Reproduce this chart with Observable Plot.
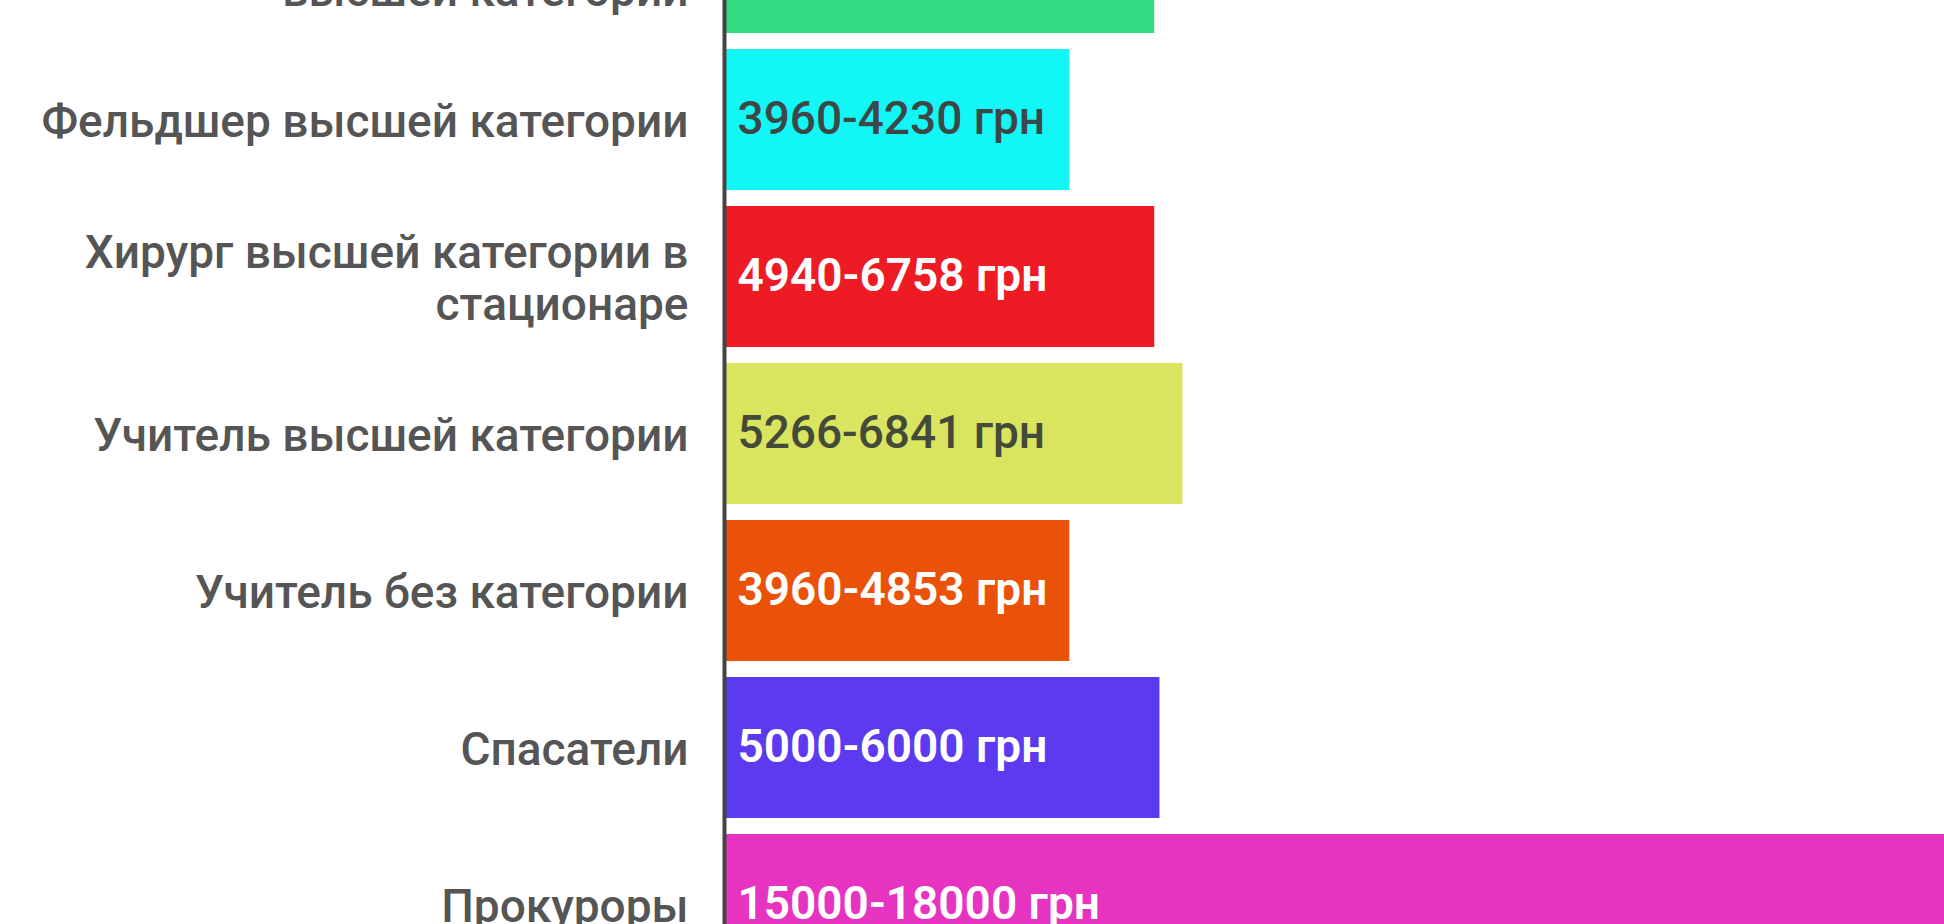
<!DOCTYPE html>
<html>
<head>
<meta charset="utf-8">
<script src="https://cdn.jsdelivr.net/npm/d3@7"></script>
<script src="https://cdn.jsdelivr.net/npm/@observablehq/plot@0.6"></script>
<style>
  html, body { margin: 0; padding: 0; background: #fff; overflow: hidden; }
  #chart svg { display: block; margin-top: -124px; max-width: none !important; }
</style>
</head>
<body>
<div id="chart"></div>
<script>
const professions = [
  "Семейный врач\nвысшей категории",
  "Фельдшер высшей категории",
  "Хирург высшей категории в\nстационаре",
  "Учитель высшей категории",
  "Учитель без категории",
  "Спасатели",
  "Прокуроры"
];
const salaryMin = [4940, 3960, 4940, 5266, 3960, 5000, 15000];
const salaryMax = [6758, 4230, 6758, 6841, 4853, 6000, 18000];
const barColors = ["#33dc82", "#12f6f5", "#ee1b24", "#d9e45f", "#ea520a", "#5c3aef", "#e634c0"];
const labelColors = ["#444444", "#3d4747", "#ffffff", "#444a3a", "#ffffff", "#ffffff", "#ffffff"];
const labelWeights = [500, 500, 600, 500, 600, 600, 600];

const data = professions.map((p, i) => ({
  profession: p,
  min: salaryMin[i],
  range: `${salaryMin[i]}-${salaryMax[i]} грн`,
  color: barColors[i],
  textColor: labelColors[i],
  weight: labelWeights[i]
}));

const pxPerUah = 0.0867;
const xMax = 16000;
const marginLeft = 726;

const chart = Plot.plot({
  width: Math.round(marginLeft + xMax * pxPerUah),
  height: 1115,
  marginLeft,
  marginRight: 0,
  marginTop: 0,
  marginBottom: 0,
  style: { fontFamily: "Roboto, sans-serif", background: "#fff", maxWidth: "none" },
  x: { domain: [0, xMax], axis: null },
  y: { domain: professions, padding: 0.1 },
  color: { type: "identity" },
  marks: [
    Plot.barX(data, { x: "min", y: "profession", fill: "color" }),
    Plot.ruleX([0], { stroke: "#444", strokeWidth: 4, dx: -2 }),
    ...[500, 600].map(w => Plot.text(data.filter(d => d.weight === w), {
      x: 0, y: "profession", text: "range", textAnchor: "start", dx: 11, dy: -1,
      fill: "textColor", fontSize: 46, fontWeight: w
    })),
    Plot.axisY({
      tickSize: 0, tickPadding: 38, fontSize: 46, fill: "#555", lineHeight: 1.13,
      label: null, fontWeight: 500
    })
  ]
});
document.getElementById("chart").append(chart);
</script>
</body>
</html>
